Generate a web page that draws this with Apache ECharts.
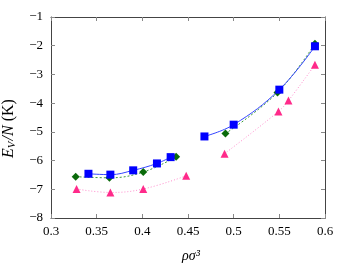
<!DOCTYPE html>
<html><head><meta charset="utf-8">
<script src="https://cdn.jsdelivr.net/npm/echarts@6/dist/echarts.min.js"></script>
<style>html,body{margin:0;padding:0;background:#fff}#c{width:350px;height:263px}</style>
</head><body><div id="c"></div>
<script>
// Blue squares (solid fit)
const blueX = [0.341, 0.365, 0.390, 0.416, 0.431, 0.468, 0.500, 0.550, 0.589];
const blueY = [-6.46, -6.49, -6.34, -6.10, -5.88, -5.16, -4.75, -3.53, -2.02];
const blueSplit = 5;
// Green diamonds (dashed fit)
const greenX = [0.327, 0.364, 0.401, 0.437, 0.491, 0.548, 0.589];
const greenY = [-6.56, -6.60, -6.40, -5.87, -5.06, -3.63, -1.93];
const greenSplit = 4;
// Pink triangles (dotted fit)
const pinkX = [0.328, 0.365, 0.401, 0.448, 0.490, 0.549, 0.560, 0.589];
const pinkY = [-6.99, -7.11, -6.99, -6.53, -5.76, -4.29, -3.91, -2.66];
const pinkSplit = 4;
const xTicks = [0.3, 0.35, 0.4, 0.45, 0.5, 0.55, 0.6];
const yTicks = [-8, -7, -6, -5, -4, -3, -2, -1];

const font = 'Liberation Serif';
function pairs(xs, ys, a, b) { const r = []; for (let i = a; i < b; i++) r.push([xs[i], ys[i]]); return r; }
function mk(xs, ys, split, color, lineColor, lineType, symbol, size) {
  const common = (d) => ({
    type: 'line', data: d, smooth: 0.4, symbol: symbol, symbolSize: size,
    itemStyle: { color: color }, lineStyle: { color: lineColor, width: 1, type: lineType },
    xAxisIndex: 0, yAxisIndex: 0, z: 3
  });
  return [common(pairs(xs, ys, 0, split)), common(pairs(xs, ys, split, xs.length))];
}
const series = [].concat(
  mk(pinkX, pinkY, pinkSplit, '#ff2a8a', '#ff8ccc', [1, 2], 'triangle', 8),
  mk(greenX, greenY, greenSplit, '#0a6a0a', '#3c9a3c', [2, 2], 'diamond', 8),
  mk(blueX, blueY, blueSplit, '#0000ff', '#3344ff', 'solid', 'rect', 8)
);
const axisCol = '#444';
const chart = echarts.init(document.getElementById('c'), null, { renderer: 'canvas' });
const xBase = {
  type: 'value', min: 0.3, max: 0.6, interval: 0.05,
  axisLine: { show: true, lineStyle: { color: axisCol, width: 1 } },
  axisTick: { show: true, inside: true, length: 4, lineStyle: { color: '#888' } },
  splitLine: { show: false }
};
const yBase = {
  type: 'value', min: -8, max: -1, interval: 1,
  axisLine: { show: true, lineStyle: { color: axisCol, width: 1 } },
  axisTick: { show: true, inside: true, length: 4, lineStyle: { color: '#888' } },
  splitLine: { show: false }
};
chart.setOption({
  animation: false,
  grid: { left: 51, right: 25, top: 17, bottom: 45, containLabel: false, outerBoundsMode: 'none' },
  xAxis: [
    Object.assign({}, xBase, {
      position: 'bottom',
      axisLabel: { color: '#000', fontFamily: font, fontSize: 13, margin: 7,
        formatter: v => xTicks.includes(Math.round(v * 100) / 100) ? String(Math.round(v * 100) / 100) : '' },
      name: 'ρσ³', nameLocation: 'middle', nameGap: 31,
      nameTextStyle: { fontFamily: font, fontSize: 14, fontStyle: 'italic', color: '#000', padding: [0, 0, 0, 6] }
    }),
    Object.assign({}, xBase, { position: 'top', axisLabel: { show: false } })
  ],
  yAxis: [
    Object.assign({}, yBase, {
      position: 'left',
      axisLabel: { color: '#000', fontFamily: font, fontSize: 13, margin: 8,
        formatter: v => (v < 0 ? '\u2212' + Math.abs(v) : String(v)) },
      name: '{i|E}{s|V}{i|/N} {n|(K)}', nameLocation: 'middle', nameGap: 33, nameRotate: 90,
      nameTextStyle: {
        fontFamily: font, fontSize: 16, color: '#000', padding: [0, 22, 0, 0],
        rich: {
          i: { fontFamily: font, fontSize: 16, fontStyle: 'italic', color: '#000', lineHeight: 19, verticalAlign: 'middle' },
          s: { fontFamily: font, fontSize: 11, fontStyle: 'italic', color: '#000', lineHeight: 19, verticalAlign: 'bottom', padding: [0, 1, 0, 0] },
          n: { fontFamily: font, fontSize: 16, color: '#000', lineHeight: 19, verticalAlign: 'middle' }
        }
      }
    }),
    Object.assign({}, yBase, { position: 'right', axisLabel: { show: false } })
  ],
  series: series
});
</script></body></html>
